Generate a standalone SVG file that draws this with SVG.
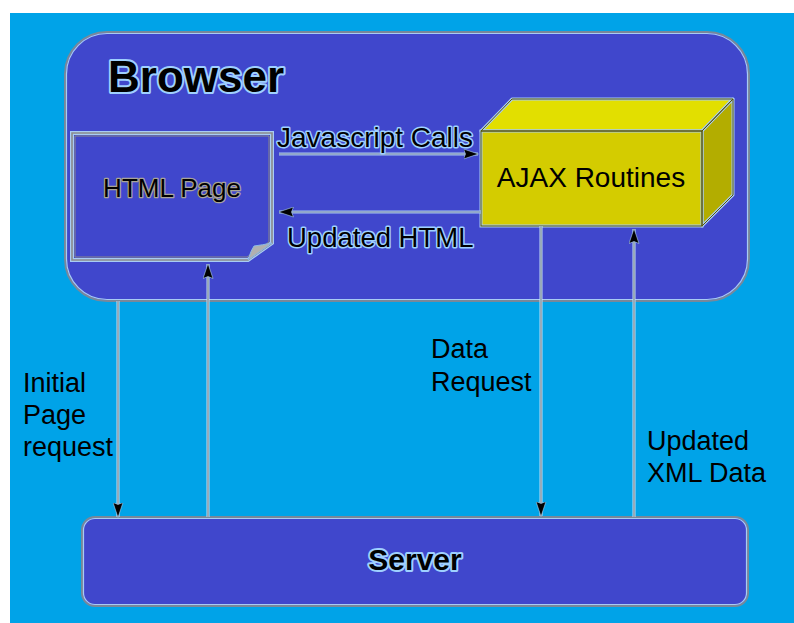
<svg xmlns="http://www.w3.org/2000/svg" width="794" height="623" viewBox="0 0 794 623">
  <defs>
    <marker id="head" viewBox="0 0 15 11" refX="14.5" refY="5.5" markerWidth="15" markerHeight="11" markerUnits="userSpaceOnUse" orient="auto">
      <path d="M0,0.5 L15,5.5 L0,10.5 L2,5.5 Z" fill="#000" stroke="#b0d4f4" stroke-width="0.6"/>
    </marker>
  </defs>
  <style>
    .txt { font-family: "Liberation Sans", Arial, sans-serif; fill: #000; }
    .halo { paint-order: stroke; stroke: #9fd0ff; stroke-linejoin: round; }
    .wire-halo { stroke: #c4e0f6; stroke-width: 3; fill: none; }
    .wire { stroke: #7c8894; stroke-width: 1.2; fill: none; }
    .inner-halo { stroke: #a8c8f4; stroke-width: 3; fill: none; }
    .inner-wire { stroke: #7c8aa4; stroke-width: 1; fill: none; }
    .panel { fill: #4047cc; }
  </style>

  <!-- page background -->
  <rect x="0" y="0" width="794" height="623" fill="#ffffff"/>
  <rect x="10" y="13" width="784" height="610" fill="#00a3e8"/>

  <!-- browser container -->
  <g id="browser">
    <rect x="65" y="32" width="684" height="269" rx="42" class="panel" stroke="#78889a" stroke-width="2"/>
    <rect x="66.5" y="33.5" width="681" height="266" rx="40.5" fill="none" stroke="#a8ccf4" stroke-width="1.2"/>
    <text x="108" y="92" class="txt halo" font-size="44" font-weight="bold" stroke-width="4">Browser</text>
  </g>

  <!-- server -->
  <g id="server">
    <rect x="82" y="517" width="666" height="89" rx="13" class="panel" stroke="#78889a" stroke-width="2"/>
    <rect x="83.5" y="518.5" width="663" height="86" rx="11.5" fill="none" stroke="#a8ccf4" stroke-width="1.2"/>
    <text x="415" y="570" class="txt halo" font-size="30" font-weight="bold" text-anchor="middle" stroke-width="4">Server</text>
  </g>

  <!-- HTML page with folded corner -->
  <g id="html-page">
    <path d="M72,133 H272 V243 L248,260 H72 Z" class="panel" stroke="#a8ccf4" stroke-width="4" stroke-linejoin="miter"/>
    <path d="M72,133 H272 V243 L248,260 H72 Z" fill="none" stroke="#8a8a8a" stroke-width="1.6"/>
    <path d="M75,136 H269 V242 L247,257 H75 Z" fill="none" stroke="#8a8a8a" stroke-width="1"/>
    <path d="M248,260 Q251,250 254,246 Q262,245 272,243 Z" fill="#b0b0b0" stroke="#8ab8e8" stroke-width="1"/>
    <text x="172" y="197" class="txt" font-size="26" text-anchor="middle" paint-order="stroke" stroke="#a8a498" stroke-width="2.5" stroke-linejoin="round">HTML Page</text>
  </g>

  <!-- AJAX routines block -->
  <g id="ajax-routines">
    <polygon points="481,131 512,99 733,99 702,131" fill="#e2df00" stroke="#a8ccf4" stroke-width="3" stroke-linejoin="round"/>
    <polygon points="702,131 733,99 733,195 702,226" fill="#b3ad00" stroke="#a8ccf4" stroke-width="3" stroke-linejoin="round"/>
    <rect x="481" y="131" width="221" height="95" fill="#d4cc00" stroke="#a8ccf4" stroke-width="3"/>
    <polygon points="481,131 512,99 733,99 702,131" fill="none" stroke="#5a5600" stroke-width="1"/>
    <polygon points="702,131 733,99 733,195 702,226" fill="none" stroke="#5a5600" stroke-width="1"/>
    <rect x="481" y="131" width="221" height="95" fill="none" stroke="#5a5600" stroke-width="1"/>
    <text x="591" y="187" class="txt" font-size="28" text-anchor="middle">AJAX Routines</text>
  </g>

  <!-- connectors -->
  <g id="connectors">
    <!-- inside the browser -->
    <line x1="279" y1="154" x2="478" y2="154" class="inner-halo"/>
    <line x1="279" y1="154" x2="478" y2="154" class="inner-wire" marker-end="url(#head)"/>
    <line x1="481" y1="212" x2="279" y2="212" class="inner-halo"/>
    <line x1="481" y1="212" x2="279" y2="212" class="inner-wire" marker-end="url(#head)"/>

    <!-- browser to server and back -->
    <line x1="118" y1="301" x2="118" y2="517" class="wire-halo"/>
    <line x1="118" y1="301" x2="118" y2="517" class="wire" marker-end="url(#head)"/>
    <line x1="208" y1="517" x2="208" y2="264" class="wire-halo"/>
    <line x1="208" y1="517" x2="208" y2="264" class="wire" marker-end="url(#head)"/>
    <line x1="541" y1="226" x2="541" y2="516" class="wire-halo"/>
    <line x1="541" y1="226" x2="541" y2="516" class="wire" marker-end="url(#head)"/>
    <line x1="634" y1="517" x2="634" y2="229" class="wire-halo"/>
    <line x1="634" y1="517" x2="634" y2="229" class="wire" marker-end="url(#head)"/>
  </g>

  <!-- connector labels -->
  <g id="labels">
    <text x="277" y="147" class="txt halo" font-size="28" stroke-width="3">Javascript Calls</text>
    <text x="287" y="247" class="txt halo" font-size="27.5" stroke-width="3">Updated HTML</text>
    <text class="txt" font-size="27">
      <tspan x="23" y="392">Initial</tspan>
      <tspan x="23" y="424">Page</tspan>
      <tspan x="23" y="456">request</tspan>
    </text>
    <text class="txt" font-size="27">
      <tspan x="431" y="358">Data</tspan>
      <tspan x="431" y="391">Request</tspan>
    </text>
    <text class="txt" font-size="27">
      <tspan x="647" y="450">Updated</tspan>
      <tspan x="647" y="482">XML Data</tspan>
    </text>
  </g>
</svg>
